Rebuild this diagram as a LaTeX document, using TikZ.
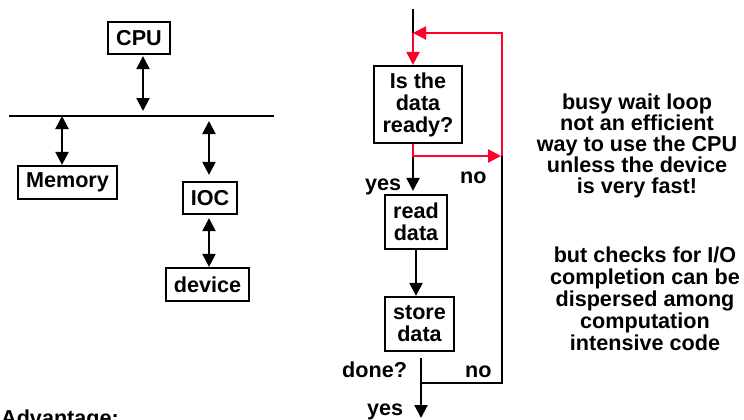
\documentclass[tikz,border=0pt]{standalone}
\usepackage{fontspec}
\setmainfont{Liberation Sans}
\usetikzlibrary{arrows.meta}
\definecolor{loopred}{RGB}{255,0,40}
\tikzset{
  every node/.style={font=\bfseries\fontsize{21.6}{22}\selectfont},
  box/.style={draw, line width=2.2pt, inner sep=0pt, align=center},
  lbl/.style={inner sep=0pt, anchor=base west},
  conn/.style={line width=2.2pt},
  tip/.style={-{Triangle[length=13pt 0,width=13pt 0]}},
  dbl/.style={{Triangle[length=13pt 0,width=13pt 0]}-{Triangle[length=13pt 0,width=13pt 0]}},
  note/.style={inner sep=0pt, align=center, anchor=north}
}
\begin{document}
\begin{tikzpicture}[x=1pt,y=-1pt]
\useasboundingbox (0,0) rectangle (744,420);
% left: bus system
\node[box, minimum width=62pt, minimum height=32pt] (cpu) at (139,38) {CPU};
\node[box, minimum width=99pt, minimum height=33pt] (mem) at (67.5,182.5) {Memory};
\node[box, minimum width=54pt, minimum height=32pt] (ioc) at (210,198) {IOC};
\node[box, minimum width=83pt, minimum height=33pt] (dev) at (207.5,284.5) {device};
\coordinate (busL) at (9,116);
\coordinate (busR) at (274,116);
\draw[conn] (busL) -- (busR);
\draw[conn,dbl,shorten >=5pt] ([xshift=4pt,yshift=-1pt]cpu.south) -- ([xshift=4pt]cpu.south |- busL);
\draw[conn,dbl] ([xshift=-5.5pt]mem.north |- busL) -- ([xshift=-5.5pt]mem.north);
\draw[conn,dbl,shorten <=5pt,shorten >=6pt] ([xshift=-1pt]ioc.north |- busL) -- ([xshift=-1pt]ioc.north);
\draw[conn,dbl,shorten <=3pt] ([xshift=-1pt]ioc.south) -- ([xshift=-1pt]ioc.south |- dev.north);
% flowchart
\node[box, minimum width=88pt, minimum height=77pt] (dec) at (418,104.5) {Is the\\data\\ready?};
\node[box, minimum width=62pt, minimum height=54pt] (rd) at (416,222) {read\\data};
\node[box, minimum width=69pt, minimum height=54pt] (st) at (419.5,324) {store\\data};
\coordinate (top) at (413,9);
\coordinate (j1) at (413,33);
\coordinate (j2) at (413,156);
\coordinate (r1) at (502,33);
\coordinate (r2) at (502,156);
\coordinate (r3) at (502,383);
\coordinate (j3) at (421,383);
\coordinate (endpt) at (421,418);
\draw[conn] (top) -- (j1);
\draw[conn,tip,shorten >=3pt] ([yshift=-1pt]j2) -- (j2 |- rd.north);
\draw[conn] (r2) -- (r3) -- (j3);
\draw[conn,tip] (rd.south) -- (rd.south |- st.north);
\draw[conn,tip,shorten <=6pt] (st.south -| j3) -- (endpt);
\draw[conn,loopred,tip] (j1) -- (j1 |- dec.north);
\draw[conn,loopred,tip] (r2) -- (r1) -- (j1);
\draw[conn,loopred,tip,shorten >=1pt] (j2 |- dec.south) -- (j2) -- (r2);
\node[lbl] (yes1) at (365,190) {yes};
\node[lbl] (no1) at (460,183) {no};
\node[lbl] (done) at (342,377) {done?};
\node[lbl] (no2) at (465,377) {no};
\node[lbl] (yes2) at (367,415) {yes};
\node[lbl] (adv) at (1,425) {Advantage:};
% notes
\node[note, font=\bfseries\fontsize{21.6}{21}\selectfont] (n1) at (637,93.2) {busy wait loop\\not an efficient\\way to use the CPU\\unless the device\\is very fast!};
\node[note] (n2) at (645,246.2) {but checks for I/O\\completion can be\\dispersed among\\computation\\intensive code};
\end{tikzpicture}
\end{document}
